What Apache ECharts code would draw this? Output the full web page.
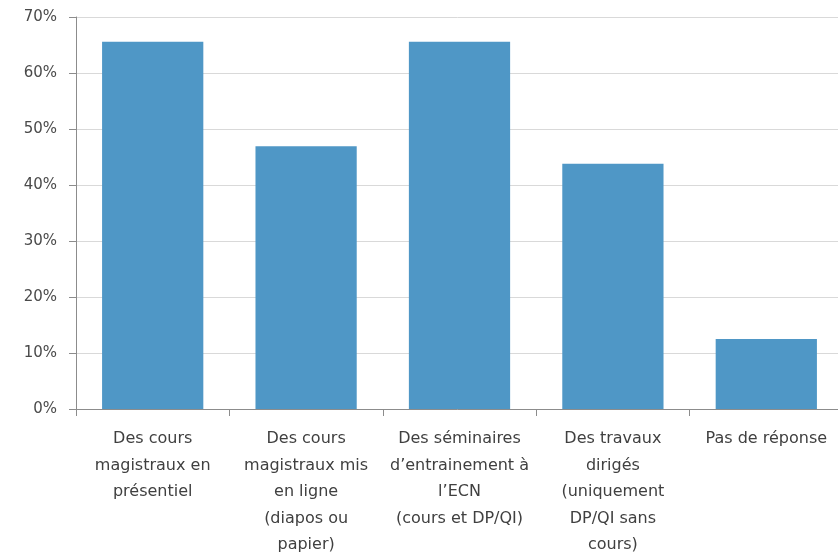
<!DOCTYPE html>
<html>
<head>
<meta charset="utf-8">
<script src="https://cdn.jsdelivr.net/npm/echarts@6/dist/echarts.min.js"></script>
<style>
  html, body { margin: 0; padding: 0; background: #fff; }
  #main { width: 838px; height: 552px; }
</style>
</head>
<body>
<div id="main"></div>
<script>
// catégories (retours à la ligne comme dans l'original)
var categories = [
    'Des cours\nmagistraux en\nprésentiel',
    'Des cours\nmagistraux mis\nen ligne\n(diapos ou\npapier)',
    'Des séminaires\nd\u2019entrainement à\nl\u2019ECN\n(cours et DP/QI)',
    'Des travaux\ndirigés\n(uniquement\nDP/QI sans\ncours)',
    'Pas de réponse'
];

// pourcentages
var values = [65.6, 46.9, 65.6, 43.8, 12.5];

// graduations de l'axe y
var yTicks = [0, 10, 20, 30, 40, 50, 60, 70];

var myChart = echarts.init(document.getElementById('main'));

var option = {
    animation: false,
    backgroundColor: '#ffffff',
    textStyle: { fontFamily: 'DejaVu Sans' },
    grid: {
        left: 76,
        top: 17,
        width: 767,
        bottom: 143,
        outerBoundsMode: 'none',
        containLabel: false
    },
    xAxis: {
        type: 'category',
        data: categories,
        axisLine: { lineStyle: { color: '#8c8c8c', width: 1 } },
        axisTick: { show: true, length: 7, lineStyle: { color: '#8c8c8c' } },
        axisLabel: {
            interval: 0,
            color: '#404040',
            fontSize: 16,
            lineHeight: 26.5,
            margin: 17,
            align: 'center'
        }
    },
    yAxis: {
        type: 'value',
        min: yTicks[0],
        max: yTicks[yTicks.length - 1],
        interval: 10,
        axisLine: { show: true, lineStyle: { color: '#8c8c8c', width: 1 } },
        axisTick: { show: true, inside: false, length: 7, lineStyle: { color: '#8c8c8c' } },
        splitLine: { lineStyle: { color: '#d9d9d9', width: 1 } },
        axisLabel: {
            formatter: '{value}%',
            color: '#4a4a4a',
            fontSize: 15,
            margin: 19
        }
    },
    series: [{
        type: 'bar',
        data: values,
        barWidth: '66%',
        itemStyle: { color: '#4f97c6' }
    }]
};

myChart.setOption(option);
</script>
</body>
</html>
